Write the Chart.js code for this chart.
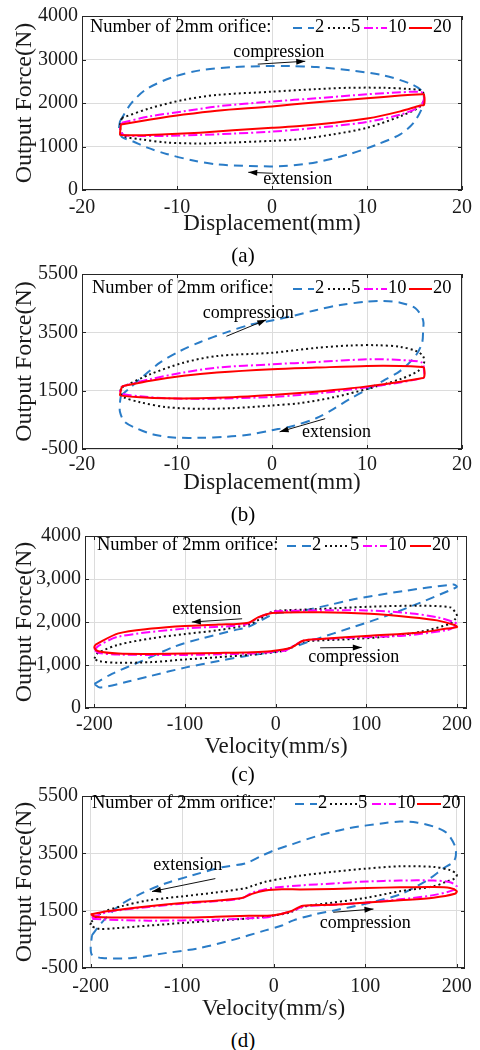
<!DOCTYPE html>
<html><head><meta charset="utf-8">
<script src="https://cdn.jsdelivr.net/npm/chart.js@4.4.1/dist/chart.umd.min.js"></script>
<style>
body{margin:0;background:#fff;width:480px;height:1050px;position:relative;overflow:hidden;font-family:"Liberation Serif",serif;}
canvas{position:absolute;left:0;}
.cap{position:absolute;left:3px;width:480px;text-align:center;font-size:21px;line-height:24px;color:#000;font-family:"Liberation Serif",serif;}
</style></head><body>
<canvas id="ca" width="480" height="245" style="top:0px"></canvas>
<canvas id="cb" width="480" height="245" style="top:258px"></canvas>
<canvas id="cc" width="480" height="245" style="top:520px"></canvas>
<canvas id="cd" width="480" height="245" style="top:780px"></canvas>
<div class="cap" style="top:243px">(a)</div>
<div class="cap" style="top:502px">(b)</div>
<div class="cap" style="top:762px">(c)</div>
<div class="cap" style="top:1028px">(d)</div>
<script>
// ---------- data ----------
const SERIES_LABELS = ['2','5','10','20'];
const X_TICKS_DISP = [-20,-10,0,10,20];
const X_TICKS_VEL = [-200,-100,0,100,200];
const Y_TICKS_A = [0,1000,2000,3000,4000];
const Y_LABELS_A = ['0','1000','2000','3000','4000'];
const Y_TICKS_B = [-500,1500,3500,5500];
const Y_LABELS_B = ['-500','1500','3500','5500'];
const Y_TICKS_C = [0,1000,2000,3000,4000];
const Y_LABELS_C = ['0','1,000','2,000','3,000','4000'];

// (a) force vs displacement
const A2x = [-16,-14.8,-13.2,-10.4,-7.6,-4.1,-0.6,1.9,4.7,8.2,11.7,14.5,15.8,16,15.8,14.9,13.5,11,8.2,4.7,1.2,-2.3,-5.8,-8.3,-11.1,-13.2,-14.6,-15.8,-16.1,-16];
const A2y = [1582,1996,2320,2599,2750,2825,2848,2848,2825,2750,2637,2448,2275,2080,1883,1544,1281,1040,829,640,550,550,588,678,829,979,1115,1220,1400,1582];
const A5x = [-15.8,-12.8,-9.3,-5.8,0,4.7,8.2,11.7,14.5,15.8,16,15.6,13.5,10,6.5,2.9,0,-4.1,-7.6,-11.1,-13.9,-15.6,-16,-15.8];
const A5y = [1657,1883,2072,2185,2260,2320,2350,2350,2320,2275,2100,1920,1695,1431,1281,1168,1130,1092,1070,1092,1168,1243,1450,1657];
const A10x = [-15.8,-12.8,-9.3,-5.8,0,4.7,10,13.5,15.8,16,15.6,13.5,10,6.5,2.9,0,-4.1,-7.6,-11.1,-13.9,-15.6,-16,-15.8];
const A10y = [1545,1695,1808,1921,2034,2109,2200,2245,2245,2100,1921,1733,1567,1469,1394,1341,1296,1266,1243,1243,1266,1400,1545];
const A20x = [-15.9,-12.8,-9.3,-5.8,0,4.7,10,13.5,15.8,16,16,15.6,13.5,10,6.5,2.9,0,-4.1,-7.6,-11.1,-13.9,-15.9,-16,-15.9];
const A20y = [1507,1620,1733,1823,1921,2019,2109,2170,2200,2195,1958,1943,1808,1642,1544,1469,1431,1371,1318,1281,1258,1266,1281,1507];

// (b)
const B2x = [-15.9,-14.9,-13.5,-11.8,-9.7,-7.6,-4.8,-2.3,0,2.2,4.7,7.2,10,11.7,13.5,15.1,15.9,15.9,15.8,15.1,13.5,11.7,10,8.2,6.5,4.7,2.2,0,-2.3,-4.8,-7.6,-10.4,-12.5,-14.2,-15.5,-16,-16,-15.9];
const B2y = [1330,1613,2008,2460,2856,3161,3500,3760,3907,4065,4268,4438,4551,4574,4517,4325,3929,3534,3139,2687,2178,1839,1534,1218,879,562,291,144,-3,-82,-116,-105,-3,201,427,766,1105,1330];
const B5x = [-15.8,-12.8,-9.3,-5.8,0,4.7,8.2,11,13.5,15.2,15.9,16,15.4,13.5,10,6.5,2.9,0,-4.1,-7.6,-11.1,-13.9,-15.6,-16,-15.8];
const B5y = [1613,2065,2460,2687,2800,2969,3048,3059,3003,2856,2687,2450,2178,1896,1556,1274,1071,992,901,879,935,1105,1274,1450,1613];
const B10x = [-15.8,-12.8,-9.3,-5.8,0,4.7,10,13.5,15.8,16,16,15.4,13.5,10,6.5,2.9,0,-4.1,-7.6,-11.1,-13.9,-15.7,-16,-15.8];
const B10y = [1647,1896,2122,2291,2404,2483,2574,2551,2461,2178,1952,1896,1783,1613,1466,1353,1285,1240,1218,1240,1308,1387,1500,1647];
const B20x = [-15.8,-12.8,-9.3,-5.8,0,4.7,10,13.5,15.8,16,16,15.6,13.5,10,6.5,2.9,0,-4.1,-7.6,-11.1,-13.9,-15.9,-16,-15.8];
const B20y = [1647,1839,2009,2122,2235,2291,2348,2348,2314,2291,1952,1918,1805,1647,1523,1421,1353,1274,1240,1240,1274,1330,1353,1647];

// (c) force vs velocity
const C2x = [-200,-180,-148,-111,-81,-45,-30,-15,0,24,60,86,141,196,200,196,160,123,86,42,10,-34,-63,-100,-137,-166,-194,-200];
const C2y = [560,800,1090,1432,1621,1811,1886,2050,2200,2243,2400,2530,2720,2871,2820,2773,2454,2150,1886,1584,1356,1205,1091,939,750,598,477,560];
const C5x = [-200,-196,-173.5,-136.6,-100,-63,-30,-19,-5,0,49,104,159.5,192.6,198,200,198,192.6,159.5,122.7,86,38,30,16,10.5,-26,-63,-100,-136.6,-173.5,-195.6,-200];
const C5y = [1150,1280,1470,1621,1720,1811,1939,2050,2230,2260,2303,2356,2378,2340,2227,2140,2068,1962,1773,1659,1606,1561,1540,1400,1333,1242,1182,1129,1068,1053,1091,1150];
const C10x = [-200,-195,-173.5,-100,-33.6,-19,-5,0,50,100,150,178,196,200,196,189,141,86,40,30,16,10,-26,-63,-100,-173.5,-195,-200];
const C10y = [1350,1450,1659,1848,1939,2100,2220,2250,2270,2270,2200,2110,2000,1950,1870,1811,1682,1636,1590,1560,1400,1330,1270,1250,1235,1242,1280,1350];
const C20x = [-199,-173.5,-136.6,-100,-63,-30,-19,-4,49,104,149,178,198,200,189,159.5,104,49,30.7,16,-6,-26,-63,-136.6,-173.5,-195.6,-200,-199];
const C20y = [1470,1735,1848,1909,1939,1985,2113,2211,2227,2189,2113,2038,1924,1880,1848,1758,1682,1606,1568,1394,1318,1295,1280,1257,1265,1318,1400,1470];

// (d)
const D2x = [-198.6,-187.7,-169.4,-144,-118.5,-89,-56.5,-31,-12.8,0,21.5,47,83,120,138,156,174.5,189,198,199,196,185,171,156,138,120,101.6,65,47,21.5,9,-9.2,-45.6,-82,-118.5,-154.9,-187.7,-198.6,-200,-198.6];
const D2y = [642,1093,1659,2110,2449,2731,3015,3150,3420,3600,3830,4099,4382,4551,4608,4574,4438,4212,3760,3421,3195,2969,2630,2348,2065,1896,1749,1500,1387,1161,981,812,473,188,19,-151,-151,-36,188,642];
const D5x = [-199.3,-187.6,-165.8,-136.6,-100,-63.8,-31,-23.7,-9.2,9,29,65,101.6,138,174.5,192.7,200,198,189,174.5,138,101.6,65,32,18,0,-27,-63.8,-100,-136.6,-173,-191,-200,-199.3];
const D5y = [1117,1432,1659,1862,1998,2133,2280,2359,2506,2619,2720,2856,2969,3048,3026,2913,2766,2630,2517,2348,2178,1952,1783,1636,1443,1330,1229,1149,1070,979,889,866,990,1117];
const D10x = [-199,-180,-136.6,-100,-63.8,-34.6,-24,-9,0,29,65,101.6,138,174.5,192.7,200,198,174.5,138,101.6,65,32,21.5,0,-9.2,-63.8,-136.6,-195,-200,-199];
const D10y = [1263,1460,1630,1745,1830,1930,2120,2246,2300,2381,2449,2517,2551,2551,2494,2348,2235,2042,1896,1783,1703,1647,1500,1320,1263,1185,1151,1206,1230,1263];
const D20x = [-200,-180,-136.6,-100,-63.8,-34.6,-23.7,-9.2,9,29,65,101.6,138,174.5,192.7,200,198,174.5,138,101.6,65,32,18,0,-27,-63.8,-100,-173,-195,-200];
const D20y = [1375,1489,1658,1771,1850,1941,2087,2200,2246,2240,2257,2291,2314,2325,2291,2178,2088,1952,1862,1783,1703,1670,1470,1340,1320,1286,1263,1263,1286,1375];

// ---------- styles ----------
const STYLES = [
  {color:'#2a7cc7', dash:[9,6]},
  {color:'#111111', dash:[2,3]},
  {color:'#ff00ff', dash:[9,3,2,3]},
  {color:'#ff0000', dash:[]}
];
const FONT = '"Liberation Serif", "Times New Roman", serif';

function pts(xs, ys){ return xs.map((x,i)=>({x:x, y:ys[i]})); }

const PANELS = [
  {id:'ca', box:{l:82,r:462,t:13,b:190}, xmin:-20, xmax:20, ymin:0, ymax:4000,
   xt:X_TICKS_DISP, yt:Y_TICKS_A, yl:Y_LABELS_A, xtitle:'Displacement(mm)',
   series:[[A2x,A2y],[A5x,A5y],[A10x,A10y],[A20x,A20y]], tickOff:18, titleOff:34,
   legend:{x:90, y:27, items:[[293,21],[328,22],[364,23],[409,23]]},
   notes:[{t:'compression', tx:0.7, ty:3164, a:[-1.5,2893,3.5,2960]},
          {t:'extension', tx:2.7, ty:248, a:[0.1,384,-2.5,407]}]},
  {id:'cb', box:{l:82,r:462,t:12,b:191}, xmin:-20, xmax:20, ymin:-500, ymax:5500,
   xt:X_TICKS_DISP, yt:Y_TICKS_B, yl:Y_LABELS_B, xtitle:'Displacement(mm)',
   series:[[B2x,B2y],[B5x,B5y],[B10x,B10y],[B20x,B20y]], tickOff:16, titleOff:34,
   legend:{x:92, y:30, items:[[293,21],[328,22],[364,23],[409,23]]},
   notes:[{t:'compression', tx:-2.5, ty:4155, a:[-4.8,3365,-0.6,3930]},
          {t:'extension', tx:6.8, ty:87, a:[5.6,540,0.8,88]}]},
  {id:'cc', box:{l:85,r:467,t:12,b:188}, xmin:-210.3, xmax:211, ymin:0, ymax:4000,
   xt:X_TICKS_VEL, yt:Y_TICKS_C, yl:Y_LABELS_C, xtitle:'Velocity(mm/s)',
   series:[[C2x,C2y],[C5x,C5y],[C10x,C10y],[C20x,C20y]], tickOff:17, titleOff:39,
   legend:{x:97, y:25, items:[[287,24],[325,24],[363,24],[410,21]]},
   notes:[{t:'extension', tx:-76, ty:2290, a:[-37,2075,-92.5,2000]},
          {t:'compression', tx:86, ty:1170, a:[49,1400,95,1409]}]},
  {id:'cd', box:{l:82,r:465,t:12,b:188}, xmin:-209.5, xmax:209, ymin:-500, ymax:5500,
   xt:X_TICKS_VEL, yt:Y_TICKS_B, yl:Y_LABELS_B, xtitle:'Velocity(mm/s)',
   series:[[D2x,D2y],[D5x,D5y],[D10x,D10y],[D20x,D20y]], tickOff:19, titleOff:41,
   legend:{x:92, y:23, items:[[295,22],[330,27],[372,24],[417,24]]},
   notes:[{t:'extension', tx:-94, ty:3070, a:[-63.8,2619,-133,2168]},
          {t:'compression', tx:100, ty:1071, a:[65,1444,109,1557]}]}
];

function makeDecor(P){
  return {
    id:'decor_'+P.id,
    afterDraw(chart){
      const ctx = chart.ctx, a = chart.chartArea, xs = chart.scales.x, ys = chart.scales.y;
      ctx.save();
      ctx.strokeStyle = '#262626'; ctx.lineWidth = 1; ctx.setLineDash([]);
      ctx.beginPath();
      xs.ticks.forEach(t=>{
        const px = Math.round(xs.getPixelForValue(t.value)) + 0.5;
        ctx.moveTo(px, a.bottom); ctx.lineTo(px, a.bottom - 4);
        ctx.moveTo(px, a.top); ctx.lineTo(px, a.top + 4);
      });
      ys.ticks.forEach(t=>{
        const py = Math.round(ys.getPixelForValue(t.value)) + 0.5;
        ctx.moveTo(a.left, py); ctx.lineTo(a.left + 4, py);
        ctx.moveTo(a.right, py); ctx.lineTo(a.right - 4, py);
      });
      ctx.stroke();
      ctx.strokeRect(a.left + 0.5, a.top + 0.5, a.right - a.left - 1, a.bottom - a.top - 1);
      // legend
      const L = P.legend;
      ctx.font = '18.5px ' + FONT; ctx.fillStyle = '#000'; ctx.textBaseline = 'middle'; ctx.textAlign = 'left';
      ctx.fillText('Number of 2mm orifice:', L.x, L.y);
      L.items.forEach((it, i)=>{
        const st = STYLES[i];
        ctx.strokeStyle = st.color; ctx.lineWidth = 2; ctx.setLineDash(st.dash);
        ctx.beginPath(); ctx.moveTo(it[0], L.y + 1); ctx.lineTo(it[0] + it[1], L.y + 1); ctx.stroke();
        ctx.fillStyle = '#000';
        ctx.fillText(SERIES_LABELS[i], it[0] + it[1] + 1, L.y);
      });
      ctx.setLineDash([]);
      // annotations
      P.notes.forEach(n=>{
        ctx.fillStyle = '#000'; ctx.textAlign = 'center'; ctx.textBaseline = 'middle';
        ctx.font = '18px ' + FONT;
        ctx.fillText(n.t, xs.getPixelForValue(n.tx), ys.getPixelForValue(n.ty));
        const x1 = xs.getPixelForValue(n.a[0]), y1 = ys.getPixelForValue(n.a[1]);
        const x2 = xs.getPixelForValue(n.a[2]), y2 = ys.getPixelForValue(n.a[3]);
        ctx.strokeStyle = '#111'; ctx.lineWidth = 1;
        ctx.beginPath(); ctx.moveTo(x1, y1); ctx.lineTo(x2, y2); ctx.stroke();
        const ang = Math.atan2(y2 - y1, x2 - x1), hl = 9, hw = 3;
        ctx.beginPath();
        ctx.moveTo(x2, y2);
        ctx.lineTo(x2 - hl*Math.cos(ang) + hw*Math.sin(ang), y2 - hl*Math.sin(ang) - hw*Math.cos(ang));
        ctx.lineTo(x2 - hl*Math.cos(ang) - hw*Math.sin(ang), y2 - hl*Math.sin(ang) + hw*Math.cos(ang));
        ctx.closePath(); ctx.fill();
      });
      ctx.restore();
    }
  };
}

function make(P){
  const cv = document.getElementById(P.id);
  const W = cv.width, H = cv.height;
  const tickFont = {family: FONT, size: 20};
  const titleFont = {family: FONT, size: 23};
  return new Chart(cv, {
    type: 'scatter',
    data: {datasets: P.series.map((s, i)=>({
      label: SERIES_LABELS[i], data: pts(s[0], s[1]), showLine: true,
      borderColor: STYLES[i].color, borderDash: STYLES[i].dash, borderWidth: 2,
      pointRadius: 0, tension: 0.3, fill: false, order: 4 - i
    }))},
    options: {
      responsive: false, animation: false, devicePixelRatio: 1,
      layout: {padding: {left: 0, right: W - P.box.r, top: P.box.t, bottom: 0}},
      plugins: {legend: {display: false}, tooltip: {enabled: false}},
      scales: {
        x: {type: 'linear', min: P.xmin, max: P.xmax,
          afterBuildTicks: s=>{ s.ticks = P.xt.map(v=>({value: v})); },
          afterFit: s=>{ s.height = H - P.box.b; },
          grid: {color: '#dcdcdc', drawTicks: false}, border: {display: false},
          ticks: {padding: P.tickOff - 12, font: tickFont, color: '#1a1a1a', maxRotation: 0, autoSkip: false,
                  callback: (v)=> String(v)},
          title: {display: true, text: P.xtitle, font: titleFont, color: '#1a1a1a',
                  padding: {top: 0, bottom: H - P.box.b - P.titleOff - 13.8}}
        },
        y: {type: 'linear', min: P.ymin, max: P.ymax,
          afterBuildTicks: s=>{ s.ticks = P.yt.map(v=>({value: v})); },
          afterFit: s=>{ s.width = P.box.l; },
          grid: {color: '#dcdcdc', drawTicks: false}, border: {display: false},
          ticks: {padding: 4, font: tickFont, color: '#1a1a1a', autoSkip: false,
                  callback: (v, i)=> P.yl[i]},
          title: {display: true, text: 'Output Force(N)', font: {family: FONT, size: 24}, color: '#1a1a1a',
                  padding: {top: 10, bottom: 0}}
        }
      }
    },
    plugins: [makeDecor(P)]
  });
}
PANELS.forEach(make);
</script>
</body></html>
